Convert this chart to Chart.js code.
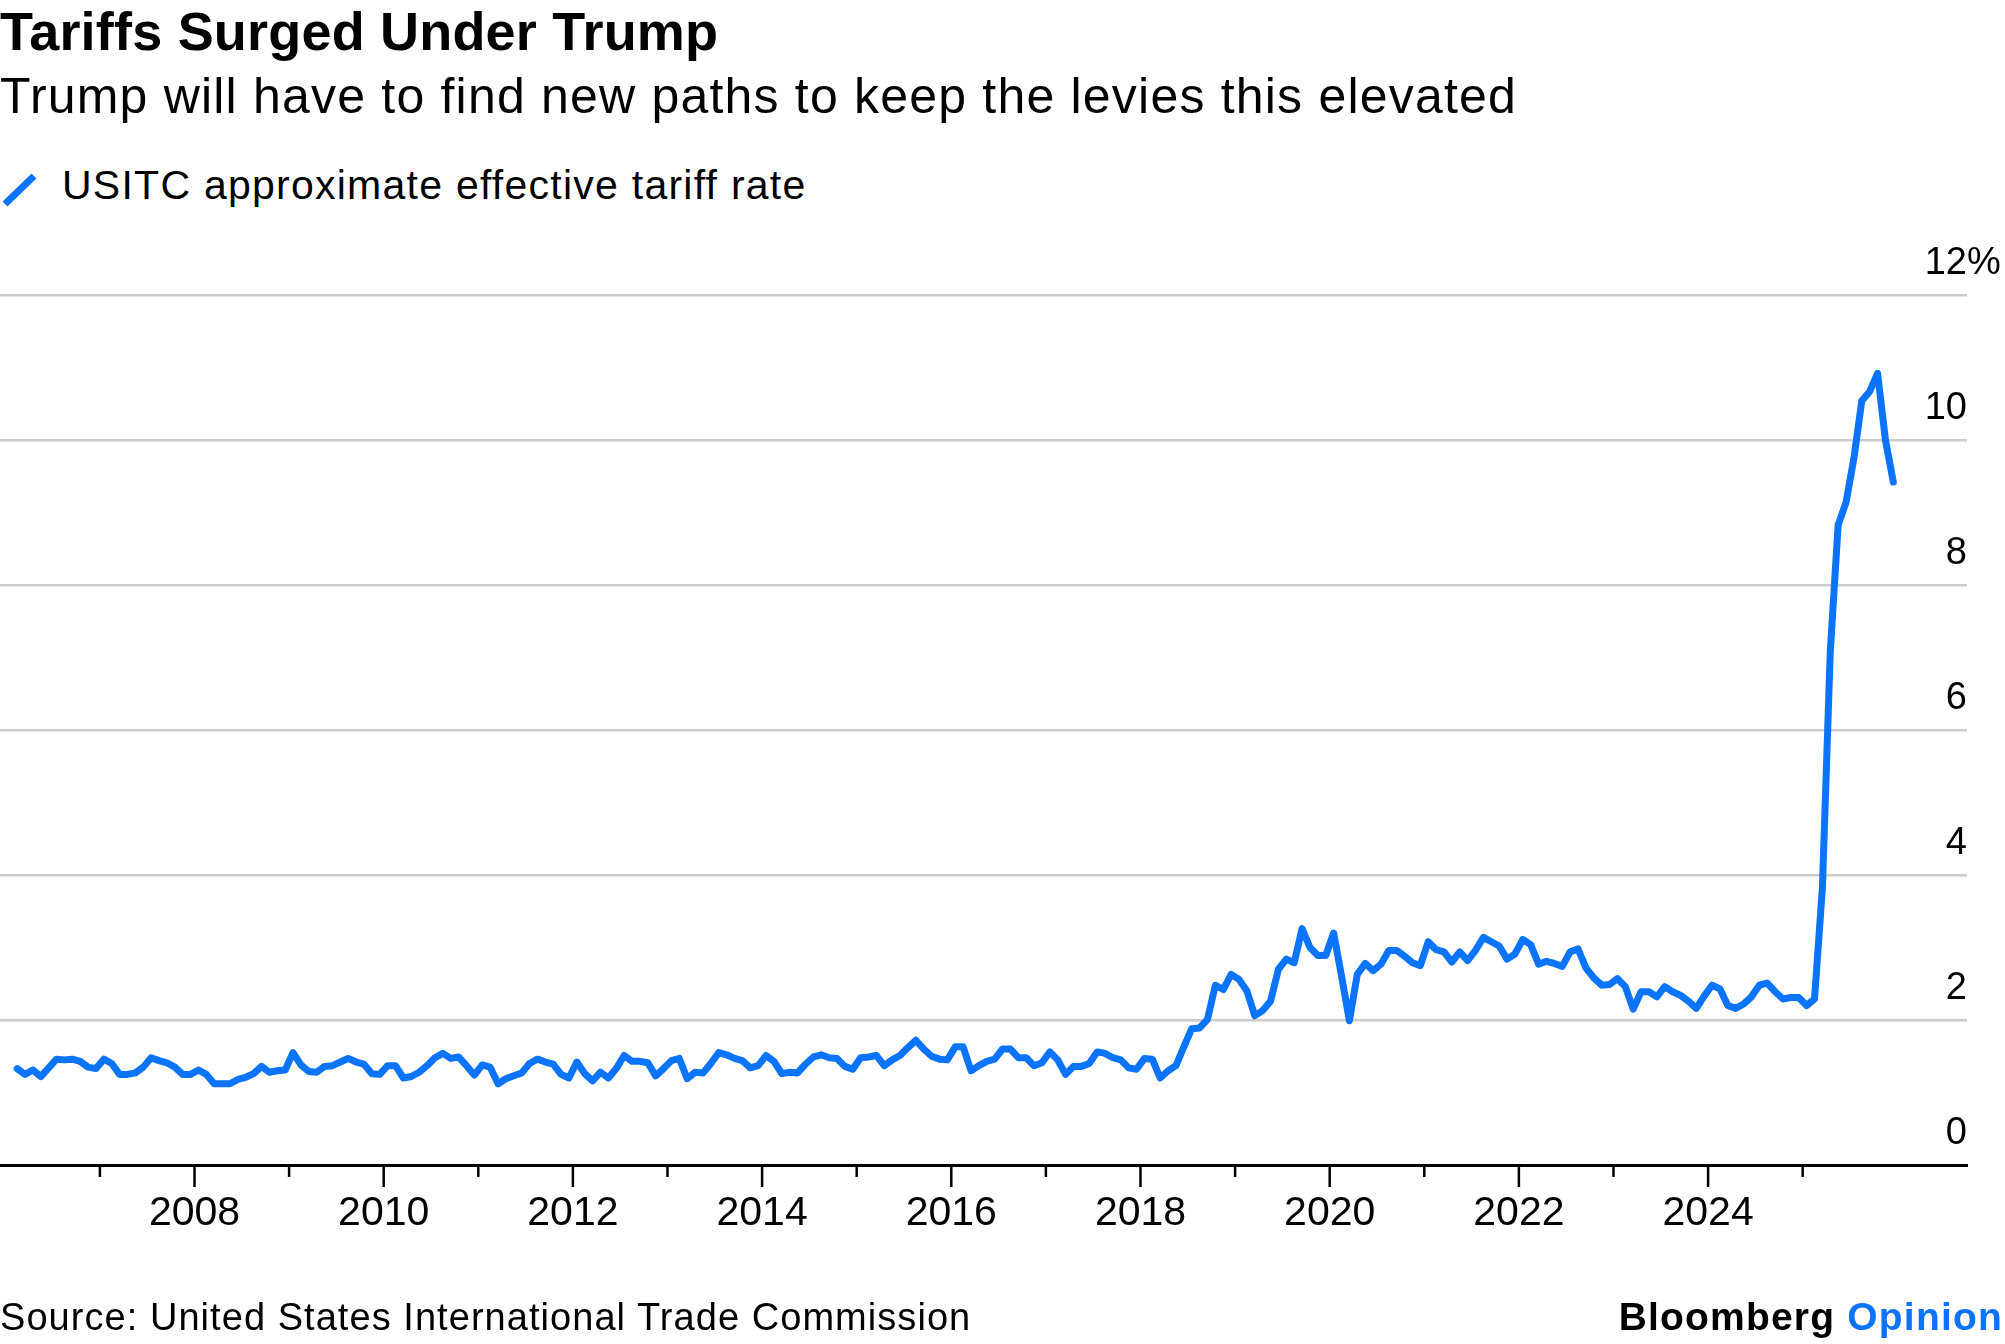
<!DOCTYPE html>
<html>
<head>
<meta charset="utf-8">
<script src="https://cdn.jsdelivr.net/npm/chart.js@4.4.1/dist/chart.umd.min.js"></script>
<style>
  html, body { margin: 0; padding: 0; background: #fff; }
  body { width: 2005px; height: 1344px; position: relative; overflow: hidden; font-family: 'Liberation Sans', Arial, sans-serif; color: #000; }
  .txt { position: absolute; white-space: nowrap; }
  #title { left: 0; top: 4px; font: bold 54px/54px 'Liberation Sans', Arial, sans-serif; letter-spacing: 0.2px; }
  #subtitle { left: 0; top: 71px; font: 50px/50px 'Liberation Sans', Arial, sans-serif; letter-spacing: 1.2px; }
  #legend { left: 62px; top: 165px; font: 41px/41px 'Liberation Sans', Arial, sans-serif; letter-spacing: 1.25px; }
  #legend-icon { position: absolute; left: 0; top: 169px; }
  #source { left: 0; top: 1298px; font: 38px/38px 'Liberation Sans', Arial, sans-serif; letter-spacing: 1.05px; }
  #brand { right: 2px; top: 1297px; font: bold 39px/39px 'Liberation Sans', Arial, sans-serif; letter-spacing: 1.2px; }
  #brand span { color: #0a74ff; }
  #chart { position: absolute; left: 0; top: 0; width: 2005px; height: 1344px; }
</style>
</head>
<body>
<div class="txt" id="title">Tariffs Surged Under Trump</div>
<div class="txt" id="subtitle">Trump will have to find new paths to keep the levies this elevated</div>
<svg id="legend-icon" width="40" height="40"><line x1="5" y1="35" x2="34" y2="7" stroke="#0a74ff" stroke-width="7"/></svg>
<div class="txt" id="legend">USITC approximate effective tariff rate</div>
<canvas id="chart" width="2005" height="1344"></canvas>
<div class="txt" id="source">Source: United States International Trade Commission</div>
<div class="txt" id="brand">Bloomberg <span>Opinion</span></div>

<script>
// monthly series, first value = Feb 2006
const startYear = 2006;
const startMonth = 2;

// USITC approximate effective tariff rate, %
const tariffRate = [
  1.33, 1.25, 1.31, 1.22, 1.34, 1.46, 1.45, 1.46, 1.43, 1.35,
  1.33, 1.46, 1.40, 1.25, 1.25, 1.27, 1.35, 1.48, 1.44, 1.41,
  1.35, 1.25, 1.25, 1.31, 1.25, 1.12, 1.12, 1.12, 1.18, 1.21,
  1.26, 1.36, 1.28, 1.30, 1.31, 1.55, 1.38, 1.29, 1.28, 1.36,
  1.37, 1.42, 1.47, 1.42, 1.39, 1.26, 1.25, 1.37, 1.37,
  1.20, 1.22, 1.28, 1.37, 1.48, 1.54, 1.47, 1.49, 1.37, 1.24,
  1.38, 1.35, 1.12, 1.19, 1.23, 1.27, 1.40, 1.46, 1.42, 1.39,
  1.25, 1.20, 1.42, 1.26, 1.16, 1.28, 1.20, 1.33, 1.51, 1.43,
  1.43, 1.41, 1.23, 1.33, 1.44, 1.47, 1.19, 1.28, 1.27, 1.40,
  1.55, 1.52, 1.47, 1.44, 1.34, 1.37, 1.51, 1.43, 1.26, 1.28,
  1.27, 1.39, 1.49, 1.52, 1.48, 1.47, 1.36, 1.32, 1.48, 1.49,
  1.51, 1.37, 1.45, 1.51, 1.62, 1.72, 1.60, 1.50, 1.46, 1.45,
  1.63, 1.63, 1.30, 1.37, 1.43, 1.46, 1.60, 1.60, 1.48, 1.48,
  1.37, 1.41, 1.56, 1.45, 1.25, 1.36, 1.36, 1.40, 1.56, 1.54,
  1.48, 1.45, 1.34, 1.32, 1.47, 1.46, 1.20, 1.30, 1.37, 1.63,
  1.88,
  1.89, 2.01, 2.48, 2.42, 2.63, 2.56, 2.40, 2.06, 2.13, 2.26,
  2.70, 2.84, 2.79, 3.26, 3.00, 2.89, 2.89, 3.20, 2.61, 1.99,
  2.63, 2.78, 2.68, 2.77, 2.96, 2.96, 2.88, 2.79, 2.75, 3.08,
  2.97, 2.94, 2.80, 2.94, 2.82, 2.96, 3.14, 3.08, 3.02, 2.84,
  2.91, 3.11, 3.04,
  2.77, 2.81, 2.78, 2.74, 2.94, 2.98, 2.72, 2.58, 2.48, 2.49,
  2.57, 2.46, 2.15, 2.39, 2.39, 2.32, 2.46, 2.39, 2.34, 2.26,
  2.16, 2.33, 2.48, 2.43, 2.20, 2.16, 2.22, 2.32, 2.48, 2.51,
  2.39, 2.29, 2.31, 2.31, 2.20, 2.29,
  3.82, 7.08, 8.83, 9.14, 9.75, 10.54, 10.67, 10.92, 10.00, 9.42
];

const xLabelYears = [2008, 2010, 2012, 2014, 2016, 2018, 2020, 2022, 2024];
const xTickYears = [2007, 2008, 2009, 2010, 2011, 2012, 2013, 2014, 2015, 2016,
                    2017, 2018, 2019, 2020, 2021, 2022, 2023, 2024, 2025];
const yTicks = [0, 2, 4, 6, 8, 10, 12];

const BLUE = '#0a74ff';
const FONT = "'Liberation Sans', Arial, sans-serif";

// mid-month positions on a decimal-year axis
const points = tariffRate.map((v, i) => ({
  x: startYear + (startMonth - 1 + i + 0.5) / 12,
  y: v
}));

// year tick marks (long on labelled years) and the right-hand value labels
const axisExtras = {
  id: 'axisExtras',
  afterDraw: (chart) => {
    const { ctx, chartArea, scales } = chart;
    const x = scales.x, y = scales.y;
    ctx.save();
    ctx.strokeStyle = '#000';
    ctx.lineWidth = 2.5;
    xTickYears.forEach(yr => {
      const px = x.getPixelForValue(yr);
      const len = xLabelYears.includes(yr) ? 22 : 12;
      ctx.beginPath();
      ctx.moveTo(px, chartArea.bottom);
      ctx.lineTo(px, chartArea.bottom + len);
      ctx.stroke();
    });

    ctx.fillStyle = '#000';
    ctx.font = '38px ' + FONT;
    ctx.textBaseline = 'middle';
    yTicks.forEach((v, i) => {
      const py = y.getPixelForValue(v) - 31;
      ctx.textAlign = 'right';
      ctx.fillText(String(v), chartArea.right, py);
      if (i === yTicks.length - 1) {
        ctx.textAlign = 'left';
        ctx.fillText('%', chartArea.right, py);
      }
    });
    ctx.restore();
  }
};

new Chart(document.getElementById('chart').getContext('2d'), {
  type: 'line',
  data: {
    datasets: [{
      label: 'USITC approximate effective tariff rate',
      data: points,
      borderColor: BLUE,
      borderWidth: 7,
      pointRadius: 0,
      tension: 0,
      borderJoinStyle: 'round',
      borderCapStyle: 'round',
      fill: false
    }]
  },
  options: {
    responsive: false,
    animation: false,
    layout: { padding: { top: 295, left: 0, right: 0, bottom: 0 } },
    plugins: { legend: { display: false }, tooltip: { enabled: false }, title: { display: false } },
    scales: {
      x: {
        type: 'linear',
        min: 2005.944,
        max: 2026.737,
        afterFit: (s) => { s.height = 179; },
        afterBuildTicks: (s) => { s.ticks = xLabelYears.map(v => ({ value: v })); },
        grid: { display: false, drawTicks: false },
        border: { display: true, color: '#000', width: 3 },
        ticks: {
          autoSkip: false,
          maxRotation: 0,
          padding: 24,
          color: '#000',
          font: { family: FONT, size: 41 },
          callback: (v) => String(v)
        }
      },
      y: {
        position: 'right',
        min: 0,
        max: 12,
        afterFit: (s) => { s.width = 38; },
        afterBuildTicks: (s) => { s.ticks = yTicks.map(v => ({ value: v })); },
        grid: {
          drawTicks: false,
          lineWidth: 2.5,
          color: (c) => (c.tick && c.tick.value === 0) ? 'rgba(0,0,0,0)' : '#cccccc'
        },
        border: { display: false },
        ticks: { display: false }
      }
    }
  },
  plugins: [axisExtras]
});
</script>
</body>
</html>
